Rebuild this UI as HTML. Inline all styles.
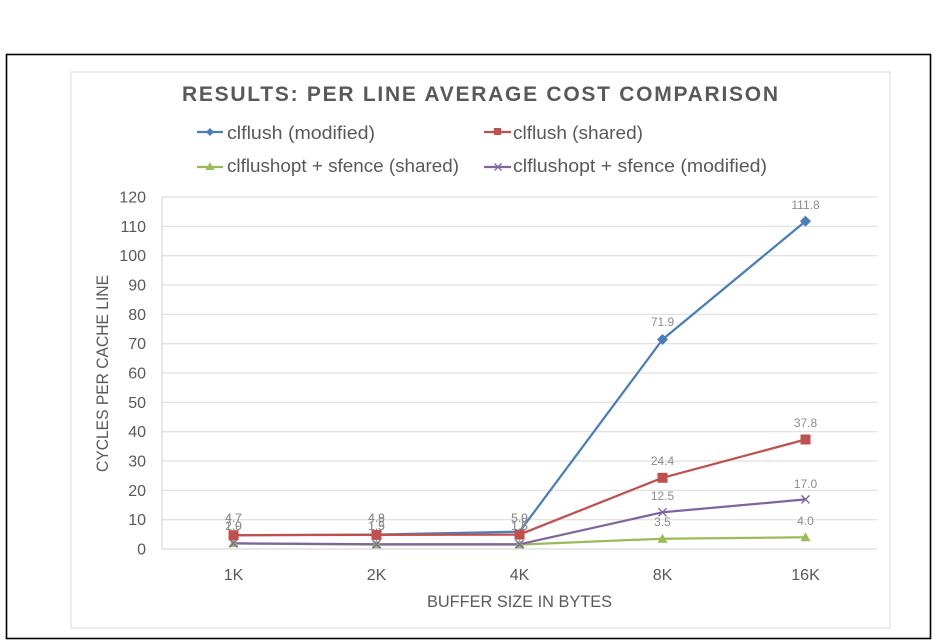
<!DOCTYPE html>
<html>
<head>
<meta charset="utf-8">
<style>
html,body{margin:0;padding:0;background:#fff;}
svg{display:block;font-family:"Liberation Sans",sans-serif;}
</style>
</head>
<body>
<svg width="937" height="640" viewBox="0 0 937 640" xmlns="http://www.w3.org/2000/svg">
<rect x="0" y="0" width="937" height="640" fill="#fff"/>
<rect x="6.5" y="54.5" width="924" height="584" fill="none" stroke="#000" stroke-width="1.6"/>
<rect x="71" y="72" width="819" height="556" fill="none" stroke="#e0e0e0" stroke-width="1.2"/>

<!-- title -->
<text x="182" y="101" font-size="21" font-weight="bold" fill="#595959" textLength="596" lengthAdjust="spacing">RESULTS: PER LINE AVERAGE COST COMPARISON</text>

<!-- legend -->
<g stroke-width="2.25">
<line x1="197" y1="132" x2="223" y2="132" stroke="#4a7ebb"/>
<polygon points="210,128 214,132 210,136 206,132" fill="#4a7ebb"/>
<line x1="484" y1="132" x2="511" y2="132" stroke="#c0504d"/>
<rect x="494" y="128" width="7" height="7" fill="#c0504d"/>
<line x1="197" y1="167" x2="223" y2="167" stroke="#9bbb59"/>
<polygon points="210,162 214.5,170 205.5,170" fill="#9bbb59"/>
<line x1="484" y1="167" x2="511" y2="167" stroke="#8064a2"/>
<path d="M494.5,163.5 L501.5,170.5 M501.5,163.5 L494.5,170.5" stroke="#8064a2" stroke-width="1.3"/>
</g>
<g font-size="18" fill="#595959">
<text x="227" y="139" textLength="148" lengthAdjust="spacingAndGlyphs">clflush (modified)</text>
<text x="513" y="139" textLength="130" lengthAdjust="spacingAndGlyphs">clflush (shared)</text>
<text x="227" y="172" textLength="232" lengthAdjust="spacingAndGlyphs">clflushopt + sfence (shared)</text>
<text x="513" y="172" textLength="254" lengthAdjust="spacingAndGlyphs">clflushopt + sfence (modified)</text>
</g>

<!-- gridlines -->
<g stroke="#d9d9d9" stroke-width="1">
<line x1="162" y1="197" x2="877" y2="197"/>
<line x1="162" y1="226.3" x2="877" y2="226.3"/>
<line x1="162" y1="255.7" x2="877" y2="255.7"/>
<line x1="162" y1="285" x2="877" y2="285"/>
<line x1="162" y1="314.3" x2="877" y2="314.3"/>
<line x1="162" y1="343.7" x2="877" y2="343.7"/>
<line x1="162" y1="373" x2="877" y2="373"/>
<line x1="162" y1="402.3" x2="877" y2="402.3"/>
<line x1="162" y1="431.7" x2="877" y2="431.7"/>
<line x1="162" y1="461" x2="877" y2="461"/>
<line x1="162" y1="490.3" x2="877" y2="490.3"/>
<line x1="162" y1="519.7" x2="877" y2="519.7"/>
<line x1="162" y1="549" x2="877" y2="549" stroke="#d0d0d0"/>
<line x1="162" y1="197" x2="162" y2="549" stroke="#d0d0d0"/>
</g>

<!-- y tick labels -->
<g font-size="16" fill="#595959" text-anchor="end">
<text x="146" y="202.5">120</text>
<text x="146" y="231.8">110</text>
<text x="146" y="261.2">100</text>
<text x="146" y="290.5">90</text>
<text x="146" y="319.8">80</text>
<text x="146" y="349.2">70</text>
<text x="146" y="378.5">60</text>
<text x="146" y="407.8">50</text>
<text x="146" y="437.2">40</text>
<text x="146" y="466.5">30</text>
<text x="146" y="495.8">20</text>
<text x="146" y="525.2">10</text>
<text x="146" y="554.5">0</text>
</g>

<!-- x tick labels -->
<g font-size="16" fill="#595959" text-anchor="middle">
<text x="233.5" y="580">1K</text>
<text x="376.5" y="580">2K</text>
<text x="519.5" y="580">4K</text>
<text x="662.5" y="580">8K</text>
<text x="805.5" y="580">16K</text>
</g>

<!-- axis titles -->
<text x="427" y="607" font-size="17" fill="#595959" textLength="185" lengthAdjust="spacingAndGlyphs">BUFFER SIZE IN BYTES</text>
<text transform="translate(108,472) rotate(-90)" x="0" y="0" font-size="17" fill="#595959" textLength="197" lengthAdjust="spacingAndGlyphs">CYCLES PER CACHE LINE</text>

<!-- series lines -->
<g fill="none" stroke-width="2.25" stroke-linejoin="round">
<polyline stroke="#4a7ebb" points="233.5,535.2 376.5,534.6 519.5,531.7 662.5,339.5 805.5,221.2"/>
<polyline stroke="#9bbb59" points="233.5,543.4 376.5,544.6 519.5,544.6 662.5,538.7 805.5,537.3"/>
<polyline stroke="#8064a2" points="233.5,543.4 376.5,544.3 519.5,544.3 662.5,512.3 805.5,499.4"/>
<polyline stroke="#c0504d" points="233.5,535.2 376.5,534.9 519.5,534.6 662.5,477.8 805.5,439.5"/>
</g>

<!-- markers -->
<g fill="#4a7ebb">
<polygon points="662.5,334 668,339.5 662.5,345 657,339.5"/>
<polygon points="805.5,215.7 811,221.2 805.5,226.7 800,221.2"/>
</g>
<g fill="#9bbb59">
<polygon points="233.5,538 238.5,547 228.5,547"/>
<polygon points="376.5,539.2 381.5,548.2 371.5,548.2"/>
<polygon points="519.5,539.2 524.5,548.2 514.5,548.2"/>
<polygon points="662.5,533.7 667.5,542.7 657.5,542.7"/>
<polygon points="805.5,532.3 810.5,541.3 800.5,541.3"/>
</g>
<g stroke="#8064a2" stroke-width="1.4">
<path d="M229.5,539.4 L237.5,547.4 M237.5,539.4 L229.5,547.4"/>
<path d="M372.5,540.3 L380.5,548.3 M380.5,540.3 L372.5,548.3"/>
<path d="M515.5,540.3 L523.5,548.3 M523.5,540.3 L515.5,548.3"/>
<path d="M658.5,508.3 L666.5,516.3 M666.5,508.3 L658.5,516.3"/>
<path d="M801.5,495.4 L809.5,503.4 M809.5,495.4 L801.5,503.4"/>
</g>
<g fill="#c0504d">
<rect x="228.5" y="530.2" width="10" height="10"/>
<rect x="371.5" y="529.9" width="10" height="10"/>
<rect x="514.5" y="529.6" width="10" height="10"/>
<rect x="657.5" y="472.8" width="10" height="10"/>
<rect x="800.5" y="434.5" width="10" height="10"/>
</g>

<!-- data labels -->
<g font-size="12" fill="#8c8c8c" text-anchor="middle">
<text x="233.5" y="522">4.7</text>
<text x="233.5" y="522">4.7</text>
<text x="233.5" y="530">1.9</text>
<text x="233.5" y="530">2.0</text>
<text x="376.5" y="522">4.9</text>
<text x="376.5" y="522">4.8</text>
<text x="376.5" y="530">1.5</text>
<text x="376.5" y="530">1.9</text>
<text x="519.5" y="522">5.9</text>
<text x="519.5" y="522">5.0</text>
<text x="519.5" y="530">1.5</text>
<text x="519.5" y="530">1.6</text>
<text x="662.5" y="326">71.9</text>
<text x="805.5" y="209">111.8</text>
<text x="662.5" y="465">24.4</text>
<text x="805.5" y="427">37.8</text>
<text x="662.5" y="500">12.5</text>
<text x="805.5" y="488">17.0</text>
<text x="662.5" y="526">3.5</text>
<text x="805.5" y="525">4.0</text>
</g>
</svg>
</body>
</html>
